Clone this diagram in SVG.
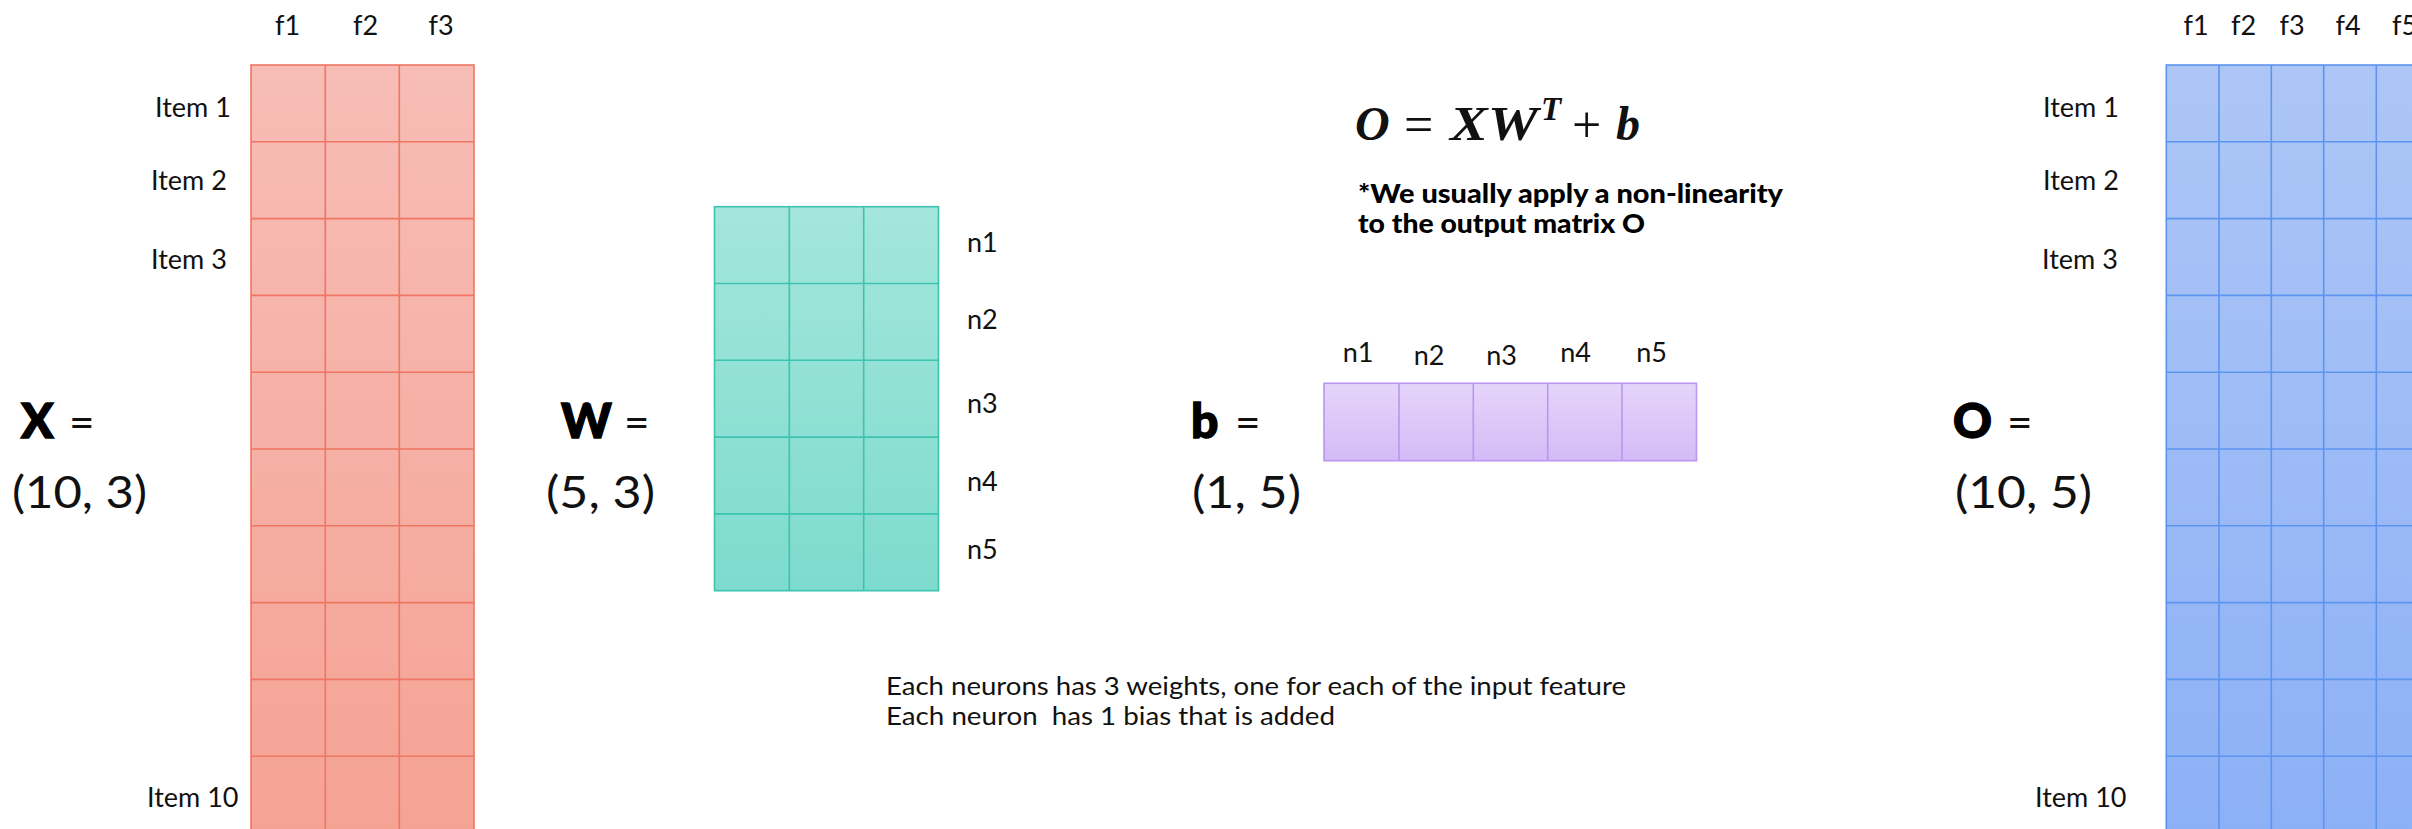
<svg xmlns="http://www.w3.org/2000/svg" width="2412" height="829" viewBox="0 0 2412 829">
  <defs>
    <linearGradient id="gX" x1="0" y1="0" x2="0" y2="1">
      <stop offset="0" stop-color="#f7bdb6"/>
      <stop offset="1" stop-color="#f5a293"/>
    </linearGradient>
    <linearGradient id="gW" x1="0" y1="0" x2="0" y2="1">
      <stop offset="0" stop-color="#a4e6db"/>
      <stop offset="1" stop-color="#7ddbcd"/>
    </linearGradient>
    <linearGradient id="gB" x1="0" y1="0" x2="0" y2="1">
      <stop offset="0" stop-color="#e5d5fa"/>
      <stop offset="1" stop-color="#d3bbf6"/>
    </linearGradient>
    <linearGradient id="gO" x1="0" y1="0" x2="0" y2="1">
      <stop offset="0" stop-color="#adc6f6"/>
      <stop offset="1" stop-color="#8cb0f6"/>
    </linearGradient>
  </defs>
  <style>
    .lbl { font-family: Lato, "Noto Sans", "Liberation Sans", sans-serif; font-size: 27px; fill: #111; }
    .big { font-family: Lato, "Noto Sans", "Liberation Sans", sans-serif; font-size: 48px; font-weight: 900; fill: #000; stroke: #000; stroke-width: 1.4; }
    .eq { font-family: Lato, "Noto Sans", "Liberation Sans", sans-serif; font-size: 44px; fill: #111; }
    .shape { font-family: Lato, "Noto Sans", "Liberation Sans", sans-serif; font-size: 45px; fill: #111; }
    .note { font-family: Lato, "Noto Sans", "Liberation Sans", sans-serif; font-size: 27px; font-weight: 900; fill: #000; }
    .desc { font-family: Lato, "Noto Sans", "Liberation Sans", sans-serif; font-size: 25px; fill: #111; white-space: pre; }
    .math { font-family: "Liberation Serif", "DejaVu Serif", serif; font-size: 48px; fill: #111; }
    .op { font-size: 52px; }
    .mi { font-style: italic; font-weight: 700; }
    .grid { fill: none; stroke-width: 1.6; }
    .cx { stroke: #ee7662; stroke-width: 1.6; }
    .cw { stroke: #3cc4b0; stroke-width: 1.6; }
    .cb { stroke: #bb95ef; stroke-width: 1.6; }
    .co { stroke: #5c95ef; stroke-width: 1.6; }
    .fx { fill: url(#gX); }
    .fw { fill: url(#gW); }
    .fb { fill: url(#gB); }
    .fo { fill: url(#gO); }
  </style>
  <rect width="2412" height="829" fill="#ffffff"/>

  <g id="matrix-X">
    <rect x="251" y="65" width="223" height="780" class="fx cx"/>
    <path class="grid cx" d="M325.3 65V845M399.3 65V845M251 141.8H474M251 218.6H474M251 295.4H474M251 372.2H474M251 449H474M251 525.8H474M251 602.6H474M251 679.4H474M251 756.2H474"/>
    <text class="lbl" x="287.5" y="35" text-anchor="middle">f1</text>
    <text class="lbl" x="365.5" y="35" text-anchor="middle">f2</text>
    <text class="lbl" x="441" y="35" text-anchor="middle">f3</text>
    <text class="lbl" x="155" y="117">Item 1</text>
    <text class="lbl" x="151" y="190">Item 2</text>
    <text class="lbl" x="151" y="269">Item 3</text>
    <text class="lbl" x="147" y="807">Item 10</text>
    <text class="big" x="21" y="438">X</text>
    <text class="eq" x="69" y="438">=</text>
    <text class="shape" x="12" y="508" textLength="135" lengthAdjust="spacingAndGlyphs">(10, 3)</text>
  </g>

  <g id="matrix-W">
    <rect x="714.5" y="206.7" width="224" height="384" class="fw cw"/>
    <path class="grid cw" d="M789.3 206.7V590.7M863.7 206.7V590.7M714.5 283.5H938.5M714.5 360.3H938.5M714.5 437.1H938.5M714.5 513.9H938.5"/>
    <text class="lbl" x="967" y="252">n1</text>
    <text class="lbl" x="967" y="329">n2</text>
    <text class="lbl" x="967" y="413">n3</text>
    <text class="lbl" x="967" y="491">n4</text>
    <text class="lbl" x="967" y="559">n5</text>
    <text class="big" x="561" y="438">W</text>
    <text class="eq" x="624" y="438">=</text>
    <text class="shape" x="546" y="508" textLength="109" lengthAdjust="spacingAndGlyphs">(5, 3)</text>
  </g>

  <g id="formula">
    <text class="math mi" x="1355" y="140">O</text>
    <text class="math op" x="1404" y="142">=</text>
    <text class="math mi" x="1450" y="140" textLength="88" lengthAdjust="spacingAndGlyphs">XW</text>
    <text class="math mi" x="1541" y="120" style="font-size:33px">T</text>
    <text class="math op" x="1572" y="142">+</text>
    <text class="math mi" x="1616" y="140">b</text>
    <text class="note" x="1358" y="203" textLength="425" lengthAdjust="spacingAndGlyphs">*We usually apply a non-linearity</text>
    <text class="note" x="1358" y="233" textLength="287" lengthAdjust="spacingAndGlyphs">to the output matrix O</text>
  </g>

  <g id="vector-b">
    <rect x="1324" y="383.3" width="372.5" height="77.4" class="fb cb"/>
    <path class="grid cb" d="M1399 383.3V460.7M1473.3 383.3V460.7M1547.7 383.3V460.7M1622 383.3V460.7"/>
    <text class="lbl" x="1358" y="362" text-anchor="middle">n1</text>
    <text class="lbl" x="1429" y="365" text-anchor="middle">n2</text>
    <text class="lbl" x="1501.5" y="365" text-anchor="middle">n3</text>
    <text class="lbl" x="1575.5" y="362" text-anchor="middle">n4</text>
    <text class="lbl" x="1651.5" y="362" text-anchor="middle">n5</text>
    <text class="big" x="1191" y="438">b</text>
    <text class="eq" x="1235" y="438">=</text>
    <text class="shape" x="1192" y="508" textLength="109" lengthAdjust="spacingAndGlyphs">(1, 5)</text>
  </g>

  <g id="matrix-O">
    <rect x="2166.3" y="65" width="300" height="780" class="fo co"/>
    <path class="grid co" d="M2219 65V845M2271.3 65V845M2323.7 65V845M2376.3 65V845M2166.3 141.8H2466M2166.3 218.6H2466M2166.3 295.4H2466M2166.3 372.2H2466M2166.3 449H2466M2166.3 525.8H2466M2166.3 602.6H2466M2166.3 679.4H2466M2166.3 756.2H2466"/>
    <text class="lbl" x="2196" y="35" text-anchor="middle">f1</text>
    <text class="lbl" x="2243.5" y="35" text-anchor="middle">f2</text>
    <text class="lbl" x="2292" y="35" text-anchor="middle">f3</text>
    <text class="lbl" x="2348" y="35" text-anchor="middle">f4</text>
    <text class="lbl" x="2392" y="35">f5</text>
    <text class="lbl" x="2043" y="117">Item 1</text>
    <text class="lbl" x="2043" y="190">Item 2</text>
    <text class="lbl" x="2042" y="269">Item 3</text>
    <text class="lbl" x="2035" y="807">Item 10</text>
    <text class="big" x="1953" y="438">O</text>
    <text class="eq" x="2007" y="438">=</text>
    <text class="shape" x="1955" y="508" textLength="137" lengthAdjust="spacingAndGlyphs">(10, 5)</text>
  </g>

  <g id="connectors"></g>

  <g id="description">
    <text class="desc" x="886" y="695" textLength="740" lengthAdjust="spacingAndGlyphs">Each neurons has 3 weights, one for each of the input feature</text>
    <text class="desc" x="886" y="725" textLength="449" lengthAdjust="spacingAndGlyphs">Each neuron  has 1 bias that is added</text>
  </g>
</svg>
